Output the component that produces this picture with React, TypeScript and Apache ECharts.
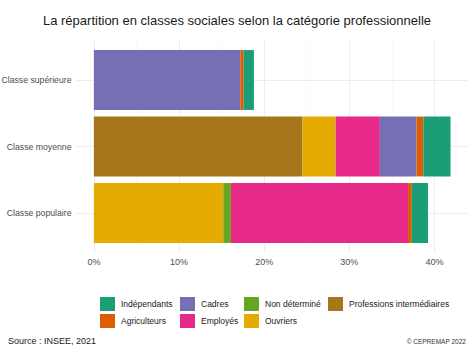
import React, { useEffect, useRef } from "react";
import * as echarts from "echarts";

const categories = ["Classe supérieure", "Classe moyenne", "Classe populaire"];

const seriesNames = [
  "Professions intermédiaires",
  "Ouvriers",
  "Non déterminé",
  "Employés",
  "Cadres",
  "Agriculteurs",
  "Indépendants",
];

const profInter = [0, 24.5, 0];
const ouvriers = [0, 3.9, 15.2];
const nonDetermine = [0, 0, 0.9];
const employes = [0, 5.2, 20.8];
const cadres = [17.2, 4.3, 0];
const agriculteurs = [0.4, 0.8, 0.45];
const independants = [1.2, 3.2, 1.9];

const seriesValues = [profInter, ouvriers, nonDetermine, employes, cadres, agriculteurs, independants];

const colors: Record<string, string> = {
  "Indépendants": "#1B9E77",
  "Agriculteurs": "#D95F02",
  "Cadres": "#7570B3",
  "Employés": "#E7298A",
  "Non déterminé": "#66A61E",
  "Ouvriers": "#E6AB02",
  "Professions intermédiaires": "#A6761D",
};

const majorTicks = [0, 10, 20, 30, 40];
const minorTicks = [5, 15, 25, 35];

const legendColumns = [
  ["Indépendants", "Agriculteurs"],
  ["Cadres", "Employés"],
  ["Non déterminé", "Ouvriers"],
  ["Professions intermédiaires"],
];
const legendLefts = [100, 180, 244, 328];

const FONT = "Liberation Sans, Arial, sans-serif";
const X_MIN = -2.1;
const X_MAX = 43.95;

export default function App() {
  const ref = useRef<HTMLDivElement>(null);
  useEffect(() => {
    if (!ref.current) return;
    const chart = echarts.init(ref.current, null, { renderer: "svg" });
    const verticalLines = [
      ...majorTicks.map((v) => ({ xAxis: v, lineStyle: { width: 0.9, color: "#ebebeb" } })),
      ...minorTicks.map((v) => ({ xAxis: v, lineStyle: { width: 0.5, color: "#f2f2f2" } })),
    ];
    const horizontalLines = categories.map((c) => ({
      yAxis: c,
      lineStyle: { width: 0.9, color: "#ebebeb" },
    }));
    const series: any[] = seriesNames.map((name, i) => ({
      name,
      type: "bar",
      stack: "total",
      xAxisIndex: 0,
      yAxisIndex: 0,
      barCategoryGap: "10%",
      itemStyle: { color: colors[name] },
      data: seriesValues[i],
      z: 2,
    }));
    series[0].markLine = {
      silent: true,
      symbol: "none",
      z: 1,
      label: { show: false },
      lineStyle: { type: "solid" },
      data: horizontalLines,
    };
    series.push({
      name: "__grid",
      type: "scatter",
      xAxisIndex: 1,
      yAxisIndex: 1,
      symbolSize: 0,
      silent: true,
      data: [[0, 0.5]],
      z: 0,
      markLine: {
        silent: true,
        symbol: "none",
        z: 0,
        label: { show: false },
        lineStyle: { type: "solid" },
        data: verticalLines,
      },
    });
    const option: any = {
      animation: false,
      textStyle: { fontFamily: FONT },
      title: {
        text: "La répartition en classes sociales selon la catégorie professionnelle",
        left: "center",
        top: 9,
        textStyle: { fontSize: 13, fontWeight: "normal", color: "#1a1a1a", fontFamily: FONT },
      },
      grid: [
        {
          left: 76,
          right: 6,
          top: 46.75,
          bottom: 106.75,
          containLabel: false,
          outerBoundsMode: "none",
        },
        {
          left: 76,
          right: 6,
          top: 40,
          bottom: 100,
          containLabel: false,
          outerBoundsMode: "none",
        },
      ],
      xAxis: [
        {
          type: "value",
          gridIndex: 0,
          min: X_MIN,
          max: X_MAX,
          splitLine: { show: false },
          axisLine: { show: false },
          axisTick: { show: false },
          axisLabel: { show: false },
        },
        {
          type: "value",
          gridIndex: 1,
          min: X_MIN,
          max: X_MAX,
          splitLine: { show: false },
          axisLine: { show: false },
          axisTick: { show: false },
          axisLabel: {
            showMinLabel: false,
            showMaxLabel: false,
            fontSize: 9,
            color: "#4d4d4d",
            margin: 4,
            fontFamily: FONT,
            formatter: (v: number) => (Math.abs(v % 10) < 1e-9 ? `${v}%` : ""),
          },
        },
      ],
      yAxis: [
        {
          type: "category",
          gridIndex: 0,
          data: categories,
          inverse: true,
          axisLine: { show: false },
          axisTick: { show: false },
          splitLine: { show: false },
          axisLabel: { fontSize: 8.7, color: "#4d4d4d", margin: 4.5, fontFamily: FONT },
        },
        {
          type: "value",
          gridIndex: 1,
          min: 0,
          max: 1,
          show: false,
          splitLine: { show: false },
        },
      ],
      legend: legendColumns.map((col, i) => ({
        data: col,
        orient: "vertical",
        left: legendLefts[i],
        top: 297,
        padding: 0,
        itemWidth: 15,
        itemHeight: 14,
        itemGap: 3,
        itemStyle: { borderWidth: 0 },
        icon: "rect",
        selectedMode: false,
        textStyle: { fontSize: 8.5, color: "#1a1a1a", fontFamily: FONT, padding: [0, 0, 0, 1] },
      })),
      graphic: [
        {
          type: "text",
          left: 8,
          top: 336,
          style: { text: "Source : INSEE, 2021", fontSize: 9, fill: "#1a1a1a", fontFamily: FONT },
        },
        {
          type: "text",
          right: 8,
          top: 338,
          style: { text: "© CEPREMAP 2022", fontSize: 6.5, fill: "#333333", fontFamily: FONT },
        },
      ],
      series,
    };
    chart.setOption(option);
    return () => chart.dispose();
  }, []);
  return (
    <div
      ref={ref}
      style={{ position: "fixed", left: 0, top: 0, width: 474, height: 353, background: "#ffffff" }}
    />
  );
}
